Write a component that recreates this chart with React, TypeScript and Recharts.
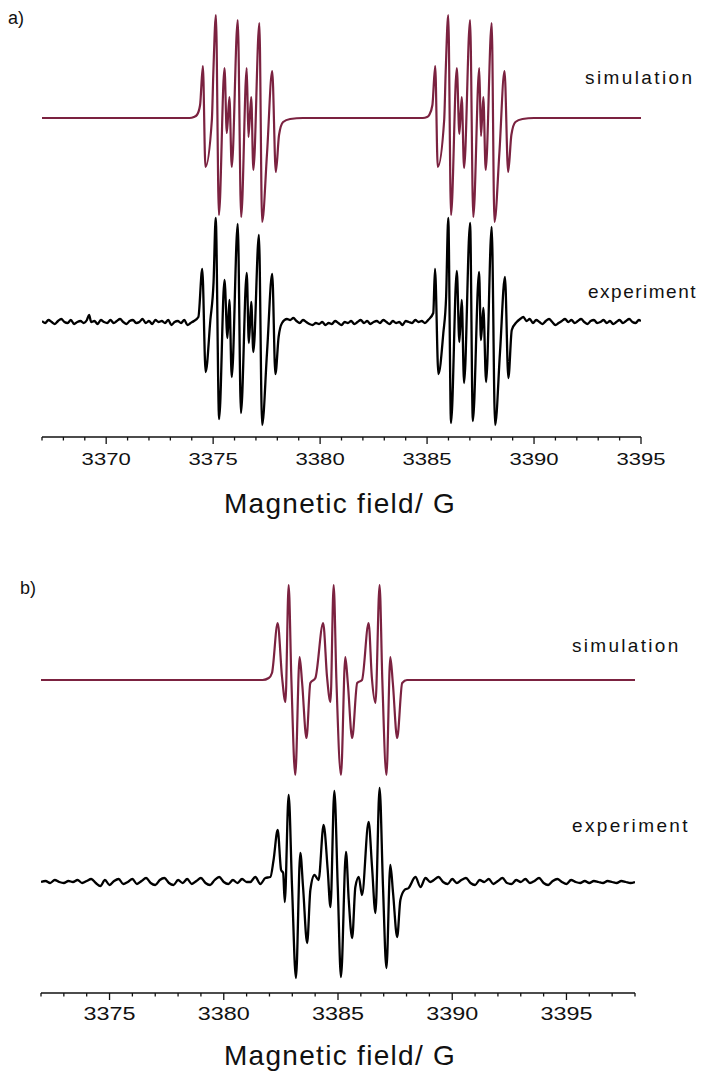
import React from 'react';
import { LineChart, Line, XAxis, YAxis } from 'recharts';

type Pt = [number, number];

// field (G), intensity (arbitrary)
const simA: Pt[] = [
  [3367.0, 0], [3373.9, 0], [3374.1, 1], [3374.24, 3], [3374.39, 13], [3374.52, 52],
  [3374.64, -49], [3374.94, -2], [3375.01, 46], [3375.13, 103], [3375.27, -97],
  [3375.53, 50], [3375.64, -15], [3375.76, 21], [3375.87, -49], [3376.15, 98],
  [3376.31, -99], [3376.57, 50], [3376.65, -19], [3376.78, 21], [3376.88, -52],
  [3377.16, 95], [3377.29, -104], [3377.52, -35], [3377.76, 47], [3377.93, -54],
  [3378.08, -17], [3378.27, -4], [3378.6, -1], [3379.2, 0],
  [3384.8, 0], [3385.0, 1], [3385.1, 3], [3385.25, 13], [3385.38, 52], [3385.5, -49],
  [3385.8, -2], [3385.87, 46], [3385.99, 103], [3386.12, -97], [3386.39, 50],
  [3386.51, -16], [3386.62, 21], [3386.73, -50], [3387.01, 98], [3387.16, -99],
  [3387.44, 50], [3387.52, -18], [3387.63, 21], [3387.74, -52], [3388.02, 95],
  [3388.15, -104], [3388.38, -35], [3388.62, 47], [3388.79, -54], [3388.94, -17],
  [3389.13, -4], [3389.46, -1], [3390.0, 0], [3395.0, 0],
];

const expA: Pt[] = [
  [3367.0, 1], [3367.15, -1], [3367.3, 2], [3367.45, 0], [3367.6, -2], [3367.75, 1],
  [3367.9, 3], [3368.05, 0], [3368.2, -1], [3368.35, 2], [3368.5, -2], [3368.65, 0],
  [3368.8, 1], [3368.95, -1], [3369.1, 2], [3369.2, 7], [3369.3, 0], [3369.45, 1],
  [3369.6, -2], [3369.75, 2], [3369.9, 0], [3370.05, -1], [3370.2, 2], [3370.35, -1],
  [3370.5, 1], [3370.65, 3], [3370.8, 0], [3370.95, -2], [3371.1, 1], [3371.25, 2],
  [3371.4, -1], [3371.55, 0], [3371.7, 3], [3371.85, -1], [3372.0, 1], [3372.15, -2],
  [3372.3, 2], [3372.45, 0], [3372.6, 1], [3372.75, -1], [3372.9, 2], [3373.05, -3],
  [3373.2, 0], [3373.35, 1], [3373.5, -1], [3373.65, 2], [3373.8, -3], [3373.95, -1],
  [3374.1, 1], [3374.31, 5], [3374.49, 53], [3374.65, -50], [3374.87, 2], [3375.02, 40],
  [3375.12, 104], [3375.28, -97], [3375.53, 42], [3375.67, -16], [3375.76, 22],
  [3375.87, -55], [3376.15, 98], [3376.3, -91], [3376.57, 49], [3376.67, -21],
  [3376.78, 20], [3376.88, -30], [3377.14, 87], [3377.29, -103], [3377.52, -30],
  [3377.76, 48], [3377.91, -52], [3378.06, -15], [3378.22, -1], [3378.45, 3],
  [3378.6, 2], [3378.75, 4], [3378.9, 1], [3379.05, -1], [3379.2, 2], [3379.35, 0],
  [3379.5, -2], [3379.65, -3], [3379.8, -1], [3379.95, -2], [3380.1, 0], [3380.25, -3],
  [3380.4, -1], [3380.55, -2], [3380.7, 1], [3380.85, -1], [3381.0, -3], [3381.15, 0],
  [3381.3, -1], [3381.45, 1], [3381.6, -2], [3381.75, 0], [3381.9, 2], [3382.05, -1],
  [3382.2, 1], [3382.35, -2], [3382.5, 0], [3382.65, 1], [3382.8, -1], [3382.95, 2],
  [3383.1, 0], [3383.25, -2], [3383.4, 1], [3383.55, -1], [3383.7, 0], [3383.85, -3],
  [3384.0, 1], [3384.15, 0], [3384.3, -1], [3384.45, 2], [3384.6, 0], [3384.75, 1],
  [3384.9, -1], [3385.05, 2], [3385.29, 9], [3385.37, 53], [3385.53, -52],
  [3385.76, -11], [3385.89, 25], [3385.99, 104], [3386.12, -101], [3386.39, 51],
  [3386.51, -20], [3386.62, 22], [3386.73, -61], [3387.01, 99], [3387.14, -99],
  [3387.43, 50], [3387.52, -18], [3387.63, 14], [3387.76, -60], [3388.02, 95],
  [3388.18, -103], [3388.41, -30], [3388.64, 45], [3388.8, -56], [3388.96, -8],
  [3389.19, 0], [3389.35, 3], [3389.5, 5], [3389.65, 1], [3389.8, 3], [3389.95, -1],
  [3390.1, 2], [3390.25, 0], [3390.4, -2], [3390.55, 1], [3390.7, 3], [3390.85, 0],
  [3391.0, -3], [3391.15, -1], [3391.3, 1], [3391.45, 3], [3391.6, 0], [3391.75, 2],
  [3391.9, -1], [3392.05, 1], [3392.2, 3], [3392.35, 0], [3392.5, -2], [3392.65, 1],
  [3392.8, 2], [3392.95, -1], [3393.1, 0], [3393.25, 2], [3393.4, -1], [3393.55, 1],
  [3393.7, -2], [3393.85, 0], [3394.0, 2], [3394.15, -1], [3394.3, 1], [3394.45, 3],
  [3394.6, 0], [3394.75, -1], [3394.9, 2], [3395.0, 1],
];

const simB: Pt[] = [
  [3372.0, 0], [3381.7, 0], [3381.97, 2], [3382.11, 7], [3382.36, 57], [3382.55, 3],
  [3382.7, -22], [3382.84, 95], [3382.96, 0], [3383.13, -95], [3383.32, 23],
  [3383.43, -3], [3383.62, -58], [3383.79, -3], [3384.01, 2], [3384.35, 57],
  [3384.52, 3], [3384.67, -22], [3384.81, 95], [3384.93, 0], [3385.13, -95],
  [3385.32, 23], [3385.43, -3], [3385.62, -58], [3385.84, -3], [3386.05, 0],
  [3386.34, 57], [3386.48, 3], [3386.64, -23], [3386.82, 95], [3386.94, 0],
  [3387.12, -95], [3387.29, 23], [3387.4, -3], [3387.59, -58], [3387.81, -3],
  [3388.02, 0], [3388.4, 0], [3398.0, 0],
];

const expB: Pt[] = [
  [3372.0, 0], [3372.2, 1], [3372.4, -1], [3372.6, 2], [3372.8, 0], [3373.0, -1],
  [3373.2, 1], [3373.4, 0], [3373.6, 2], [3373.8, -1], [3374.0, 1], [3374.2, 3],
  [3374.4, -1], [3374.6, -4], [3374.8, 2], [3375.0, -3], [3375.2, 1], [3375.4, 3],
  [3375.6, -2], [3375.8, 0], [3376.0, 3], [3376.2, -2], [3376.4, 1], [3376.6, 4],
  [3376.8, -1], [3377.0, -3], [3377.2, 2], [3377.4, 4], [3377.6, -1], [3377.8, -3],
  [3378.0, 2], [3378.2, -1], [3378.4, 3], [3378.6, -2], [3378.8, 1], [3379.0, 4],
  [3379.2, -1], [3379.4, -3], [3379.6, 2], [3379.8, 5], [3380.0, 0], [3380.2, -2],
  [3380.4, 2], [3380.6, -1], [3380.8, 3], [3381.0, 0], [3381.16, 0], [3381.38, 5],
  [3381.6, -2], [3381.82, 4], [3382.04, 5], [3382.18, 22], [3382.36, 52], [3382.51, 12],
  [3382.6, 9], [3382.67, -20], [3382.84, 87], [3382.99, -6], [3383.16, -96],
  [3383.35, 29], [3383.47, -5], [3383.65, -61], [3383.79, -8], [3383.97, 7],
  [3384.15, 2], [3384.37, 57], [3384.55, 12], [3384.67, -25], [3384.84, 91],
  [3384.99, -5], [3385.13, -95], [3385.35, 30], [3385.47, -18], [3385.62, -56],
  [3385.76, -5], [3385.91, 5], [3386.05, -13], [3386.34, 60], [3386.49, 15],
  [3386.64, -31], [3386.82, 94], [3386.97, -5], [3387.12, -86], [3387.29, 17],
  [3387.41, -11], [3387.59, -55], [3387.73, -18], [3387.91, -8], [3388.09, -6],
  [3388.39, 5], [3388.61, -5], [3388.83, 4], [3389.04, 0], [3389.2, 2], [3389.4, 5],
  [3389.6, 0], [3389.8, -2], [3390.0, 3], [3390.2, -1], [3390.4, 2], [3390.6, 4],
  [3390.8, -1], [3391.0, -3], [3391.2, 2], [3391.4, 0], [3391.6, 3], [3391.8, -2],
  [3392.0, 1], [3392.2, 4], [3392.4, -1], [3392.6, -2], [3392.8, 2], [3393.0, 0],
  [3393.2, 3], [3393.4, -1], [3393.6, 1], [3393.8, 4], [3394.0, -1], [3394.2, -3],
  [3394.4, 1], [3394.6, 3], [3394.8, 0], [3395.0, -2], [3395.2, 2], [3395.4, 0],
  [3395.6, -1], [3395.8, 1], [3396.0, -1], [3396.2, 1], [3396.4, 0], [3396.6, -1],
  [3396.8, 1], [3397.0, 0], [3397.2, -1], [3397.4, 1], [3397.6, 0], [3397.8, -1],
  [3398.0, 0],
];

const ticksA = Array.from({ length: 29 }, (_, i) => 3367 + i);
const ticksB = Array.from({ length: 27 }, (_, i) => 3372 + i);

const toRows = (pts: Pt[]) => pts.map(([b, v]) => ({ b, v }));

const FONT = '"Liberation Sans", Arial, sans-serif';
const SIM_COLOR = '#7b2240';

const FieldTick = (props: any) => {
  const { x, y, payload, labelDy, fontSize, stretch } = props;
  const major = payload.value % 5 === 0;
  return (
    <g>
      <line x1={x} x2={x} y1={y} y2={y + (major ? 7 : 3.5)} stroke="#111" strokeWidth={1.3} />
      {major && (
        <text transform={`translate(${x},${y + labelDy}) scale(${stretch},1)`} x={0} y={0}
          textAnchor="middle" fontFamily={FONT} fontSize={fontSize} fill="#111">
          {payload.value}
        </text>
      )}
    </g>
  );
};

interface PanelProps {
  sim: Pt[];
  exp: Pt[];
  domain: [number, number];
  ticks: number[];
  simDomain: [number, number];
  expDomain: [number, number];
  height: number;
  left: number;
  right: number;
  labelDy: number;
  fontSize: number;
}

const Panel = ({ sim, exp, domain, ticks, simDomain, expDomain, height, left, right, labelDy, fontSize }: PanelProps) => (
  <LineChart width={712} height={height} margin={{ top: 0, right, bottom: 0, left }}>
    <XAxis
      dataKey="b"
      type="number"
      domain={domain}
      ticks={ticks}
      interval={0}
      allowDataOverflow
      height={40}
      tickSize={0}
      tickMargin={0}
      tickLine={false}
      axisLine={{ stroke: '#111', strokeWidth: 1.4 }}
      tick={(p: any) => <FieldTick {...p} labelDy={labelDy} fontSize={fontSize} stretch={1.3} />}
    />
    <YAxis yAxisId="sim" hide type="number" domain={simDomain} allowDataOverflow />
    <YAxis yAxisId="exp" hide type="number" domain={expDomain} allowDataOverflow />
    <Line yAxisId="sim" data={toRows(sim)} dataKey="v" type="monotone" stroke={SIM_COLOR}
      strokeWidth={2.2} dot={false} isAnimationActive={false} />
    <Line yAxisId="exp" data={toRows(exp)} dataKey="v" type="monotone" stroke="#000"
      strokeWidth={2.3} dot={false} isAnimationActive={false} />
  </LineChart>
);

const txt = (left: number, top: number, size: number, spacing = 0): React.CSSProperties => ({
  position: 'absolute', left, top, fontFamily: FONT, fontSize: size, lineHeight: 1,
  letterSpacing: spacing, color: '#111', whiteSpace: 'nowrap',
});

export default function App() {
  return (
    <div style={{ position: 'absolute', left: 0, top: 0, width: 712, height: 1073, background: '#fff' }}>
      <div style={{ position: 'absolute', left: 0, top: 0 }}>
        <Panel sim={simA} exp={expA} domain={[3367, 3395]} ticks={ticksA}
          simDomain={[-319, 118]} expDomain={[-115, 322]} height={477} left={42} right={71}
          labelDy={28} fontSize={17} />
      </div>
      <div style={{ position: 'absolute', left: 0, top: 540 }}>
        <Panel sim={simB} exp={expB} domain={[3372, 3398]} ticks={ticksB}
          simDomain={[-313, 140]} expDomain={[-111, 342]} height={493} left={41} right={77}
          labelDy={27} fontSize={18} />
      </div>
      <div style={txt(8, 9, 18)}>a)</div>
      <div style={txt(585, 68, 19, 2.4)}>simulation</div>
      <div style={txt(588, 282, 19, 1.5)}>experiment</div>
      <div style={txt(224, 490, 28, 1.3)}>Magnetic field/ G</div>
      <div style={txt(20, 579, 18)}>b)</div>
      <div style={txt(572, 636, 19, 2.3)}>simulation</div>
      <div style={txt(572, 816, 19, 2.4)}>experiment</div>
      <div style={txt(224, 1042, 28, 1.3)}>Magnetic field/ G</div>
    </div>
  );
}
